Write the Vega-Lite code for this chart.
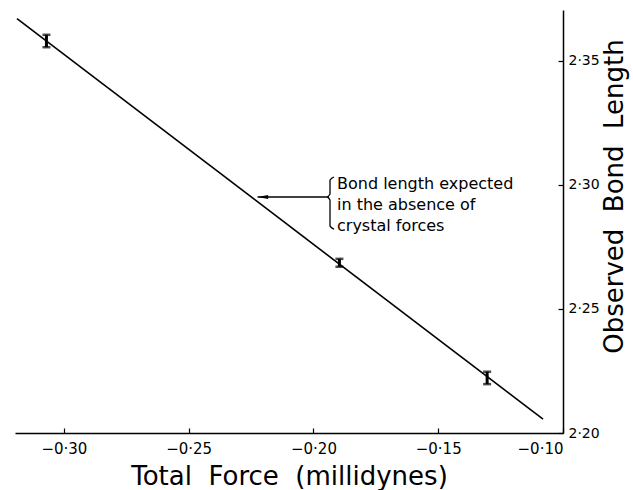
{
  "$schema": "https://vega.github.io/schema/vega-lite/v6.json",
  "width": 548,
  "height": 423,
  "autosize": {"type": "none"},
  "padding": {"left": 15, "top": 10, "right": 70, "bottom": 57},
  "background": "white",
  "config": {"view": {"stroke": null}, "font": "DejaVu Sans"},
  "datasets": {
    "fit": [{"force": -0.3188, "bond": 2.367}, {"force": -0.108, "bond": 2.2056}],
    "obs": [
      {"force": -0.307, "bond": 2.358, "lo": 2.3555, "hi": 2.3605},
      {"force": -0.1896, "bond": 2.2685, "lo": 2.267, "hi": 2.2702},
      {"force": -0.1304, "bond": 2.2222, "lo": 2.2197, "hi": 2.2247}
    ],
    "brace": [
      {"i": 1, "force": -0.19176, "bond": 2.30319},
      {"i": 2, "force": -0.19337, "bond": 2.30198},
      {"i": 3, "force": -0.19337, "bond": 2.29633},
      {"i": 4, "force": -0.19457, "bond": 2.29512},
      {"i": 5, "force": -0.19337, "bond": 2.29391},
      {"i": 6, "force": -0.19337, "bond": 2.28343},
      {"i": 7, "force": -0.19176, "bond": 2.28222}
    ],
    "arrow": [{"force": -0.2224, "force2": -0.19457, "bond": 2.29512, "headx": -0.22025}],
    "note": [{"force": -0.19056, "bond": 2.30036, "label": ["Bond length expected", "in the absence of", "crystal forces"]}]
  },
  "encoding": {
    "x": {
      "field": "force", "type": "quantitative",
      "scale": {"domain": [-0.3196, -0.1], "nice": false, "zero": false},
      "axis": {
        "orient": "bottom",
        "values": [-0.3, -0.25, -0.2, -0.15, -0.1],
        "labelExpr": "replace(format(datum.value, '.2f'), '.', '·')",
        "title": "Total \u00a0Force \u00a0(millidynes)",
        "titleFontSize": 26, "titleFontWeight": "normal", "titleColor": "black",
        "titlePadding": 7,
        "labelFontSize": 15, "labelColor": "black", "labelPadding": 13,
        "domainColor": "black", "domainWidth": 1.5,
        "tickColor": "black", "tickSize": -5, "tickWidth": 1.2,
        "grid": false
      }
    },
    "y": {
      "field": "bond", "type": "quantitative",
      "scale": {"domain": [2.2, 2.3705], "nice": false, "zero": false},
      "axis": {
        "orient": "right",
        "values": [2.2, 2.25, 2.3, 2.35],
        "labelExpr": "replace(format(datum.value, '.2f'), '.', '·')",
        "title": "Observed \u00a0Bond \u00a0Length",
        "titleAngle": 270,
        "titleBaseline": "top",
        "titleY": 186,
        "titleFontSize": 26, "titleFontWeight": "normal", "titleColor": "black",
        "titlePadding": 2,
        "labelFontSize": 14, "labelColor": "black", "labelPadding": 10,
        "domainColor": "black", "domainWidth": 1.5,
        "tickColor": "black", "tickSize": -5, "tickWidth": 1.2,
        "grid": false
      }
    }
  },
  "layer": [
    {"data": {"name": "fit"}, "mark": {"type": "line", "color": "black", "strokeWidth": 1.6}},
    {"data": {"name": "obs"}, "mark": {"type": "rule", "color": "black", "strokeWidth": 3},
      "encoding": {"y": {"field": "lo", "type": "quantitative"}, "y2": {"field": "hi"}}},
    {"data": {"name": "obs"}, "mark": {"type": "tick", "color": "black", "orient": "horizontal", "size": 8, "thickness": 2.5},
      "encoding": {"y": {"field": "lo", "type": "quantitative"}}},
    {"data": {"name": "obs"}, "mark": {"type": "tick", "color": "black", "orient": "horizontal", "size": 8, "thickness": 2.5},
      "encoding": {"y": {"field": "hi", "type": "quantitative"}}},
    {"data": {"name": "brace"}, "mark": {"type": "line", "color": "black", "strokeWidth": 1.3, "interpolate": "monotone"},
      "encoding": {"order": {"field": "i", "type": "quantitative"}}},
    {"data": {"name": "arrow"}, "mark": {"type": "rule", "color": "black", "strokeWidth": 1.5},
      "encoding": {"x2": {"field": "force2"}}},
    {"data": {"name": "arrow"}, "mark": {"type": "point", "filled": true, "color": "black", "opacity": 1, "size": 110, "shape": "M -1 0 L 1 -0.4 L 1 0.4 Z"},
      "encoding": {"x": {"field": "headx", "type": "quantitative"}}},
    {"data": {"name": "note"}, "mark": {"type": "text", "align": "left", "baseline": "middle", "fontSize": 16, "lineHeight": 21, "color": "black"},
      "encoding": {"text": {"field": "label"}}}
  ]
}
